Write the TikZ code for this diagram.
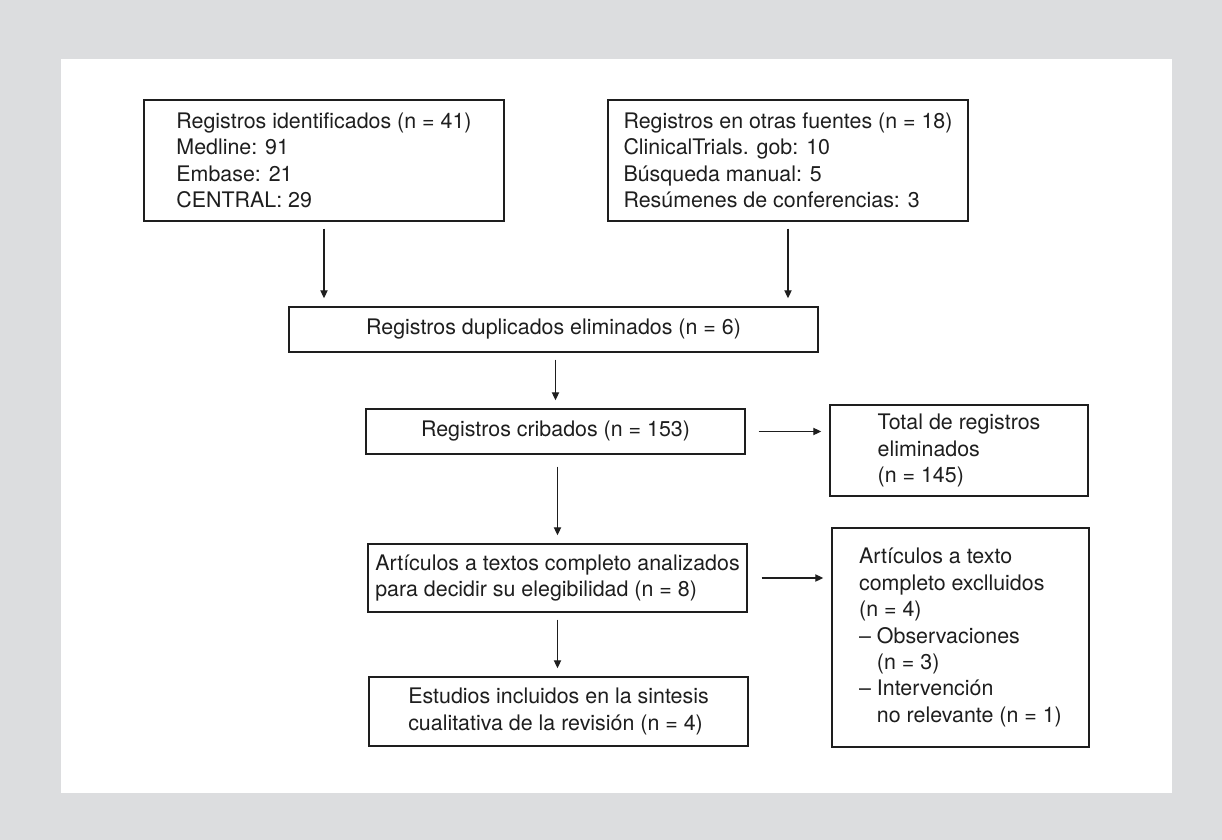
\documentclass[tikz,border=0pt]{standalone}
\usepackage{fontspec}
\setmainfont{TeX Gyre Heros}
\usetikzlibrary{arrows.meta}
\usepackage{xcolor}
\definecolor{panelGray}{HTML}{DCDDDF}
\definecolor{inkGray}{HTML}{1E1E1E}
\newcommand{\boxFont}{\fontsize{10.7}{13.2}\selectfont}
\newcommand{\pageWidth}{1222}
\newcommand{\pageHeight}{840}

\begin{document}
\begin{tikzpicture}[x=0.5pt, y=-0.5pt,
  flowbox/.style={draw=inkGray, line width=0.7pt, align=left, inner sep=0pt, font=\boxFont, text=inkGray},
  flowarrow/.style={-{Triangle[length=4pt,width=3.6pt]}, draw=inkGray, line width=0.65pt, shorten <=3.5pt, shorten >=4pt}]
\useasboundingbox (0,0) rectangle (\pageWidth,\pageHeight);
\fill[panelGray] (0,0) rectangle (\pageWidth,\pageHeight);
\fill[white] (61,59) rectangle (1172,793);

\node[flowbox, minimum width=180pt, minimum height=60.5pt] (ident) at (324,160.5) {Registros identificados (n = 41)\\ Medline: 91\\ Embase: 21\\ CENTRAL: 29};
\node[flowbox, minimum width=180pt, minimum height=60.5pt] (otras) at (788,160.5) {Registros en otras fuentes (n = 18)\\ ClinicalTrials. gob: 10\\ Búsqueda manual: 5\\ Resúmenes de conferencias: 3};
\node[flowbox, minimum width=264.5pt, minimum height=22.5pt] (dup) at (553.5,329.5) {Registros duplicados eliminados (n = 6)};
\node[flowbox, minimum width=189.5pt, minimum height=22.5pt] (crib) at (555.5,431.5) {Registros cribados (n = 153)};
\node[flowbox, minimum width=129pt, minimum height=45.5pt] (total) at (959,450.5) {Total de registros\\ eliminados\\ (n = 145)};
\node[flowbox, minimum width=189.5pt, minimum height=34pt] (art) at (557.5,578) {Artículos a textos completo analizados\\ para decidir su elegibilidad (n = 8)};
\node[flowbox, minimum width=128.5pt, minimum height=109.5pt] (excl) at (960.5,637.5) {Artículos a texto\\ completo exclluidos\\ (n = 4)\\ – Observaciones\\ \hphantom{– }(n = 3)\\ – Intervención\\ \hphantom{– }no relevante (n = 1)};
\node[flowbox, minimum width=189.5pt, minimum height=34.5pt] (est) at (558.5,711.5) {Estudios incluidos en la sintesis\\ cualitativa de la revisión (n = 4)};

\draw[flowarrow] (ident.south) -- (ident.south |- dup.north);
\draw[flowarrow] (otras.south) -- (otras.south |- dup.north);
\draw[flowarrow] (crib.north |- dup.south) -- (crib.north);
\draw[flowarrow, shorten <=6pt] (art.north |- crib.south) -- (art.north);
\draw[flowarrow] (art.south) -- (art.south |- est.north);
\draw[flowarrow, shorten <=6.5pt] (crib.east) -- (crib.east -| total.west);
\draw[flowarrow, shorten <=7pt] (art.east) -- (art.east -| excl.west);
\end{tikzpicture}
\end{document}
